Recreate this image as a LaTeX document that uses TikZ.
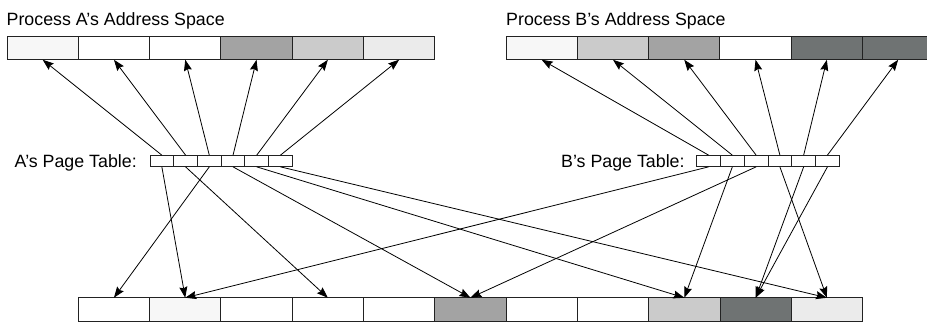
\documentclass[tikz,border=0pt]{standalone}
\usepackage{fontspec}
\setmainfont{Liberation Sans}
\usetikzlibrary{arrows.meta}
\definecolor{shA}{HTML}{F7F7F7}
\definecolor{shB}{HTML}{CBCBCB}
\definecolor{shC}{HTML}{A3A3A3}
\definecolor{shD}{HTML}{6F7373}
\definecolor{shE}{HTML}{EBEBEB}
\definecolor{edge}{HTML}{222222}
\begin{document}
\begin{tikzpicture}[x=1pt,y=-1pt,
  cell/.style={draw=edge, line width=0.9pt, minimum width=71.3pt, minimum height=23.5pt, inner sep=0pt, outer sep=0pt},
  ptcell/.style={draw=edge, line width=0.9pt, minimum width=23.75pt, minimum height=11.7pt, inner sep=0pt, outer sep=0pt},
  lbl/.style={inner sep=0pt, anchor=base west, font=\fontsize{17.8}{20}\selectfont},
  map/.style={line width=0.8pt, -{Stealth[length=11pt,width=8pt,inset=1.5pt]}}]
\useasboundingbox (0,0) rectangle (927,322);

% titles and labels
\node[lbl] (tA) at (6.5,25) {Process A’s Address Space};
\node[lbl] (tB) at (506,25) {Process B’s Address Space};
\node[lbl] (lA) at (14.5,167) {A’s Page Table:};
\node[lbl] (lB) at (561,167) {B’s Page Table:};

% process A address space
\foreach \i/\c in {1/shA,2/white,3/white,4/shC,5/shB,6/shE}
  \node[cell, fill=\c] (a\i) at ({7+71.3*(\i-0.5)},48) {};
% process B address space
\foreach \i/\c in {1/shA,2/shB,3/shC,4/white,5/shD,6/shD}
  \node[cell, fill=\c] (b\i) at ({506+71.3*(\i-0.5)},48) {};
% page tables
\foreach \i in {1,...,6}{
  \node[ptcell] (pa\i) at ({150+23.72*(\i-0.5)},161) {};
  \node[ptcell] (pb\i) at ({696.7+23.77*(\i-0.5)},161) {};
}
% physical memory
\foreach \i/\c in {1/white,2/shA,3/white,4/white,5/white,6/shC,7/white,8/white,9/shB,10/shD,11/shE}
  \node[cell, fill=\c, minimum height=23.3pt] (m\i) at ({78.3+71.3*(\i-0.5)},309.4) {};

% page table -> address space
\foreach \i in {1,...,6}{
  \draw[map] (pa\i.north) -- (a\i.south);
  \draw[map] (pb\i.north) -- (b\i.south);
}
% page table -> physical memory
\foreach \i/\j in {1/2,2/4,3/1,4/6,5/9,6/11}
  \draw[map] (pa\i.south) -- (m\j.north);
\foreach \i/\j in {1/2,2/9,3/6,4/11,5/10,6/10}
  \draw[map] (pb\i.south) -- (m\j.north);
\end{tikzpicture}
\end{document}
